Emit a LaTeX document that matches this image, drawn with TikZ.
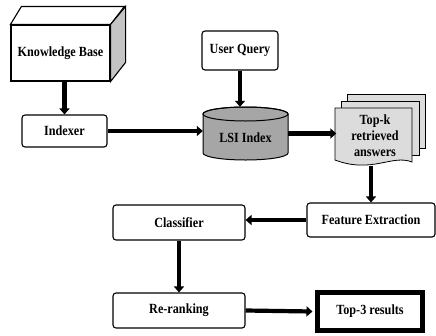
\documentclass[tikz,border=0pt]{standalone}
\usepackage{fontspec}
\setmainfont[FakeStretch=0.87]{Liberation Serif}
\usetikzlibrary{arrows.meta}
\definecolor{cylgray}{HTML}{A6A6A6}
\definecolor{sheetgray}{HTML}{DCDCDC}
\definecolor{facegray}{HTML}{C4C4C4}
\tikzset{
  lbl/.style={font=\fontsize{14}{16}\selectfont\bfseries, align=center, inner sep=0pt},
  rbox/.style={lbl, draw, line width=1.1pt, rounded corners=3pt},
  ghost/.style={lbl},
  arr/.style={line width=4.2pt, -{Triangle[length=6pt,width=10pt]}},
  sheet/.style={draw, line width=0.8pt, fill=sheetgray},
}
\begin{document}
\begin{tikzpicture}[x=1pt,y=-1pt]
\useasboundingbox (0,0) rectangle (436,335);
% Knowledge base cube
\node[lbl, draw, line width=1.1pt, minimum width=99pt, minimum height=56pt] (kb) at (60.5,53) {Knowledge Base};
\draw[line width=1.1pt, fill=white] (kb.north west) -- ++(11,-18) -- ++(103,0) -- (kb.north east) -- cycle;
\draw[line width=1.1pt, fill=facegray] (kb.north east) -- ++(15,-18) -- ++(0,56) -- (kb.south east) -- cycle;
% Indexer
\node[rbox, minimum width=85pt, minimum height=32pt] (idx) at (64.5,131) {Indexer};
% User query
\node[rbox, minimum width=76pt, minimum height=39pt] (uq) at (240,50.5) {User Query};
% LSI cylinder
\node[ghost, minimum width=85pt, minimum height=53pt] (lsi) at (245.5,133.5) {};
\draw[line width=1pt, fill=cylgray] (203,114) -- (203,153)
  arc[start angle=180, end angle=360, x radius=42.5pt, y radius=7pt]
  -- (288,114)
  arc[start angle=0, end angle=180, x radius=42.5pt, y radius=7pt] -- cycle;
\draw[line width=1pt] (245.5,114) ellipse [x radius=42.5pt, y radius=7pt];
\node[lbl] at (245.5,138) {LSI Index};
% Top-k sheets
\draw[sheet] (347,94) rectangle (425,148);
\draw[sheet] (341,101) rectangle (419,155);
\draw[sheet] (335,108) -- (412,108) -- (412,162)
  .. controls (392,154) and (372,174) .. (335,160) -- cycle;
\node[ghost, minimum width=77pt, minimum height=55pt] (topk) at (375,136) {Top-k\\retrieved\\answers};
% Feature extraction
\node[rbox, minimum width=128pt, minimum height=34pt] (fe) at (371,220) {Feature Extraction};
% Classifier
\node[rbox, minimum width=132pt, minimum height=35pt] (cls) at (179,222.5) {Classifier};
% Re-ranking
\node[rbox, minimum width=132pt, minimum height=35pt] (rr) at (179,310.5) {Re-ranking};
% Top-3
\node[lbl, draw, line width=5pt, minimum width=105pt, minimum height=38pt] (t3) at (370,311.5) {Top-3 results};
% arrows
\draw[arr] (kb.south -| idx.north) -- (idx.north);
\draw[arr] (idx.east) -- (idx.east -| lsi.west);
\draw[arr] (uq.south) -- (uq.south |- lsi.north);
\draw[arr] (lsi.east) -- (lsi.east -| topk.west);
\draw[arr] (fe.north |- topk.south) ++(0,2) -- (fe.north);
\draw[arr] (fe.west) -- (fe.west -| cls.east);
\draw[arr] (cls.south) -- (rr.north);
\draw[arr] (rr.east) -- ([xshift=-2.5pt]t3.west);
\end{tikzpicture}
\end{document}
